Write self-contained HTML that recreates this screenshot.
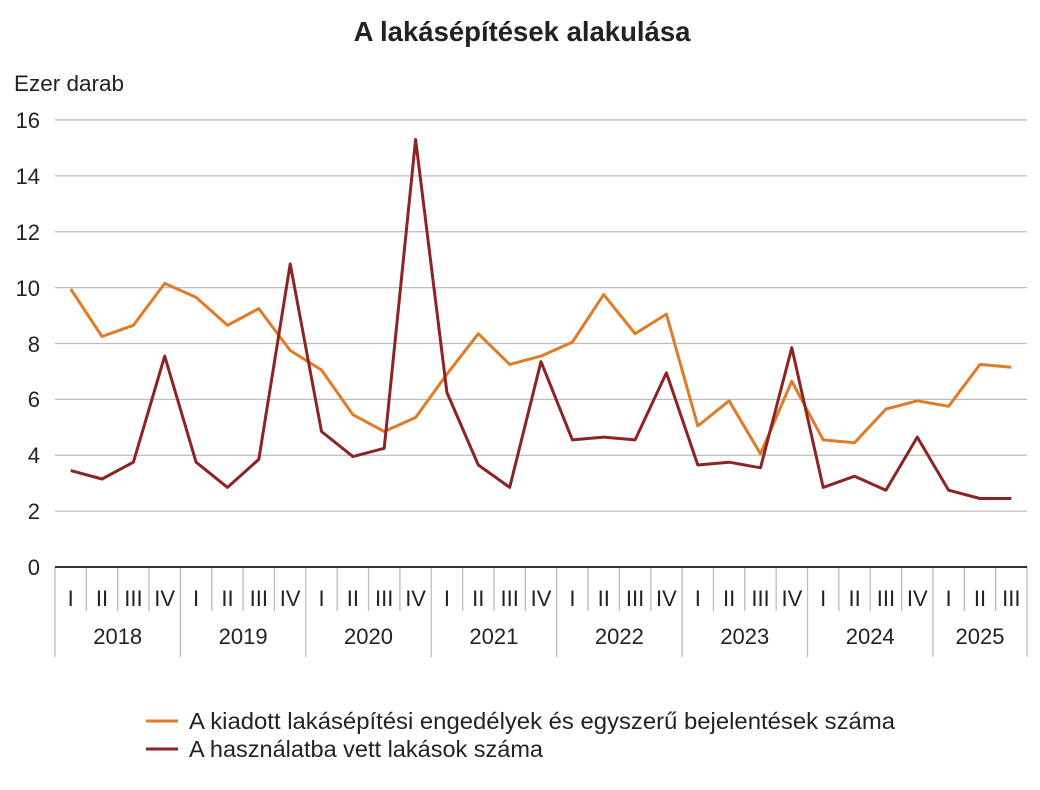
<!DOCTYPE html>
<html><head><meta charset="utf-8"><style>
body{margin:0;background:#fff;}
svg{display:block;font-family:"Liberation Sans",Arial,sans-serif;}
</style></head><body>
<svg id="s" width="1040" height="790" viewBox="0 0 1040 790">
<text x="522" y="41" text-anchor="middle" font-size="27.5" font-weight="bold" fill="#222">A lakásépítések alakulása</text>
<text x="14" y="91" font-size="22.5" fill="#222">Ezer darab</text>
<g id="grid" stroke="#bdbdbd" stroke-width="1.3"></g>
<g font-size="22" fill="#222" text-anchor="end">
<text x="40" y="128">16</text><text x="40" y="184">14</text><text x="40" y="240">12</text><text x="40" y="296">10</text>
<text x="40" y="352">8</text><text x="40" y="407">6</text><text x="40" y="463">4</text><text x="40" y="519">2</text><text x="40" y="575">0</text>
</g>
<g id="sep" stroke="#bdbdbd" stroke-width="1.3"></g>
<line x1="55" y1="567" x2="1027" y2="567" stroke="#333" stroke-width="2"/>
<g font-size="22" fill="#222" text-anchor="middle">
<text x="70.7" y="606">I</text><text x="102" y="606">II</text><text x="133.4" y="606">III</text><text x="164.7" y="606">IV</text>
<text x="196.1" y="606">I</text><text x="227.5" y="606">II</text><text x="258.8" y="606">III</text><text x="290.2" y="606">IV</text>
<text x="321.5" y="606">I</text><text x="352.9" y="606">II</text><text x="384.2" y="606">III</text><text x="415.6" y="606">IV</text>
<text x="446.9" y="606">I</text><text x="478.3" y="606">II</text><text x="509.7" y="606">III</text><text x="541" y="606">IV</text>
<text x="572.4" y="606">I</text><text x="603.7" y="606">II</text><text x="635.1" y="606">III</text><text x="666.4" y="606">IV</text>
<text x="697.8" y="606">I</text><text x="729.1" y="606">II</text><text x="760.5" y="606">III</text><text x="791.9" y="606">IV</text>
<text x="823.2" y="606">I</text><text x="854.6" y="606">II</text><text x="885.9" y="606">III</text><text x="917.3" y="606">IV</text>
<text x="948.6" y="606">I</text><text x="980" y="606">II</text><text x="1011.3" y="606">III</text>
<text x="117.7" y="644">2018</text><text x="243.1" y="644">2019</text><text x="368.5" y="644">2020</text><text x="493.9" y="644">2021</text>
<text x="619.4" y="644">2022</text><text x="744.8" y="644">2023</text><text x="870.2" y="644">2024</text><text x="980" y="644">2025</text>
</g>
<polyline id="o" fill="none" stroke="#e07b2a" stroke-width="3" stroke-linejoin="round"/>
<polyline id="r" fill="none" stroke="#8b2423" stroke-width="3" stroke-linejoin="round"/>
<line x1="146" y1="721" x2="178" y2="721" stroke="#e07b2a" stroke-width="3"/>
<line x1="146" y1="749" x2="178" y2="749" stroke="#8b2423" stroke-width="3"/>
<text x="189" y="729" font-size="23.5" fill="#222" textLength="706" lengthAdjust="spacingAndGlyphs">A kiadott lakásépítési engedélyek és egyszerű bejelentések száma</text>
<text x="189" y="757" font-size="23.5" fill="#222">A használatba vett lakások száma</text>
</svg>
<script>
var NS="http://www.w3.org/2000/svg";
function ln(g,x1,y1,x2,y2){var l=document.createElementNS(NS,"line");l.setAttribute("x1",x1);l.setAttribute("y1",y1);l.setAttribute("x2",x2);l.setAttribute("y2",y2);document.getElementById(g).appendChild(l);}
function Y(v){return 567-v*27.94;}
for(var v=2;v<=16;v+=2)ln("grid",55,Y(v),1027,Y(v));
var w=31.355;
for(var i=0;i<=31;i++){var x=55+w*i;ln("sep",x,567,x,(i%4==0||i==31)?657:611);}
var o=[9.95,8.25,8.65,10.15,9.65,8.65,9.25,7.75,7.05,5.45,4.85,5.35,6.9,8.35,7.25,7.55,8.05,9.75,8.35,9.05,5.05,5.95,4.05,6.65,4.55,4.45,5.65,5.95,5.75,7.25,7.15];
var r=[3.45,3.15,3.75,7.55,3.75,2.85,3.85,10.85,4.85,3.95,4.25,15.3,6.25,3.65,2.85,7.35,4.55,4.65,4.55,6.95,3.65,3.75,3.55,7.85,2.85,3.25,2.75,4.65,2.75,2.45,2.45];
function pts(a){return a.map(function(v,i){return (70.68+w*i).toFixed(1)+","+Y(v).toFixed(1);}).join(" ");}
document.getElementById("o").setAttribute("points",pts(o));
document.getElementById("r").setAttribute("points",pts(r));
</script>
</body></html>
